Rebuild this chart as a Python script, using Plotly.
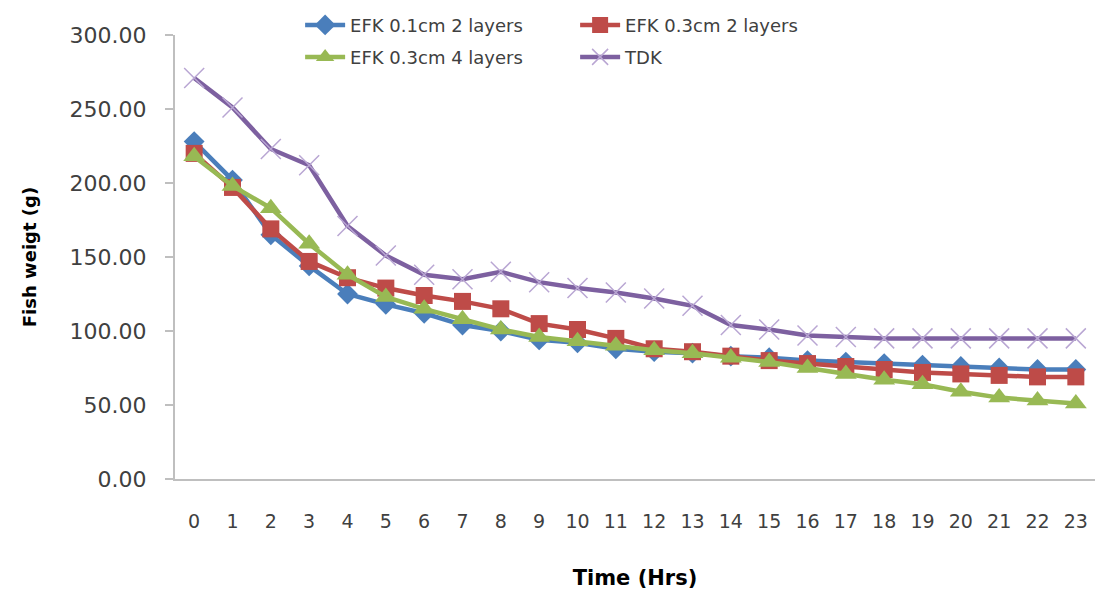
import plotly.graph_objects as go

hours = list(range(24))
tick_labels = [str(h) for h in hours]
efk01_2 = [228, 202, 165, 144, 125, 118, 112, 104, 100, 94, 92, 88, 86, 85, 83, 82, 80, 79, 78, 77, 76, 75, 74, 74]
efk03_2 = [220, 197, 169, 147, 136, 129, 124, 120, 115, 105, 101, 95, 88, 86, 83, 80, 78, 76, 74, 72, 71, 70, 69, 69]
efk03_4 = [218, 198, 183, 159, 138, 123, 115, 108, 101, 96, 93, 90, 87, 85, 82, 79, 75, 71, 67, 64, 59, 55, 53, 51]
tdk = [271, 251, 223, 212, 171, 151, 138, 135, 140, 133, 129, 126, 122, 117, 104, 101, 97, 96, 95, 95, 95, 95, 95, 95]

FONT = "DejaVu Sans"
fig = go.Figure()
fig.add_trace(go.Scatter(x=hours, y=efk01_2, name="EFK 0.1cm 2 layers", mode="lines+markers",
                         line=dict(color="#4A7EBB", width=4.5),
                         marker=dict(symbol="diamond", size=16, color="#4A7EBB"), legend="legend"))
fig.add_trace(go.Scatter(x=hours, y=efk03_2, name="EFK 0.3cm 2 layers", mode="lines+markers",
                         line=dict(color="#BE4B48", width=4.5),
                         marker=dict(symbol="square", size=17, color="#BE4B48"), legend="legend"))
fig.add_trace(go.Scatter(x=hours, y=efk03_4, name="EFK 0.3cm 4 layers", mode="lines+markers",
                         line=dict(color="#98B954", width=4.5),
                         marker=dict(symbol="triangle-up", size=19, color="#98B954"), legend="legend2"))
fig.add_trace(go.Scatter(x=hours, y=tdk, name="TDK", mode="lines+markers",
                         line=dict(color="#7D60A0", width=4.5),
                         marker=dict(symbol="x-thin-open", size=20, color="#B9A6D3", line=dict(width=1.5, color="#B9A6D3")),
                         legend="legend2"))

legend_common = dict(orientation="h", x=0.136, xanchor="left", yanchor="middle", entrywidth=220, entrywidthmode="pixels",
                     font=dict(family=FONT, size=18, color="#404040"), bgcolor="rgba(0,0,0,0)",
                     itemwidth=40, tracegroupgap=0)
fig.update_layout(
    width=1098, height=595,
    margin=dict(l=175, r=3, t=35, b=116),
    paper_bgcolor="white", plot_bgcolor="white",
    font=dict(family=FONT, size=19, color="#404040"),
    legend=dict(y=1.022, **legend_common),
    legend2=dict(y=0.95, **legend_common),
    xaxis=dict(
        tickmode="array", tickvals=hours, ticktext=tick_labels, range=[-0.5, 23.5],
        showgrid=False, zeroline=False, showline=True, linecolor="#BFBFBF", linewidth=2,
        ticks="", ticklabelstandoff=24, tickfont=dict(family=FONT, size=19, color="#404040"),
        title=dict(text="<b>Time (Hrs)</b>", font=dict(family=FONT, size=21, color="#000000"), standoff=40),
    ),
    yaxis=dict(
        range=[0, 300], tickvals=[0, 50, 100, 150, 200, 250, 300], tickformat=".2f",
        showgrid=False, zeroline=False, showline=True, linecolor="#BFBFBF", linewidth=2,
        ticks="outside", ticklen=8, tickcolor="#BFBFBF", tickwidth=2, ticklabelstandoff=14,
        tickfont=dict(family=FONT, size=22, color="#404040"),
        title=dict(text="<b>Fish weigt (g)</b>", font=dict(family=FONT, size=18, color="#000000"), standoff=28),
    ),
)
fig.write_html("out.html", post_script="document.body.style.margin='0';",
               config={"displayModeBar": False})
